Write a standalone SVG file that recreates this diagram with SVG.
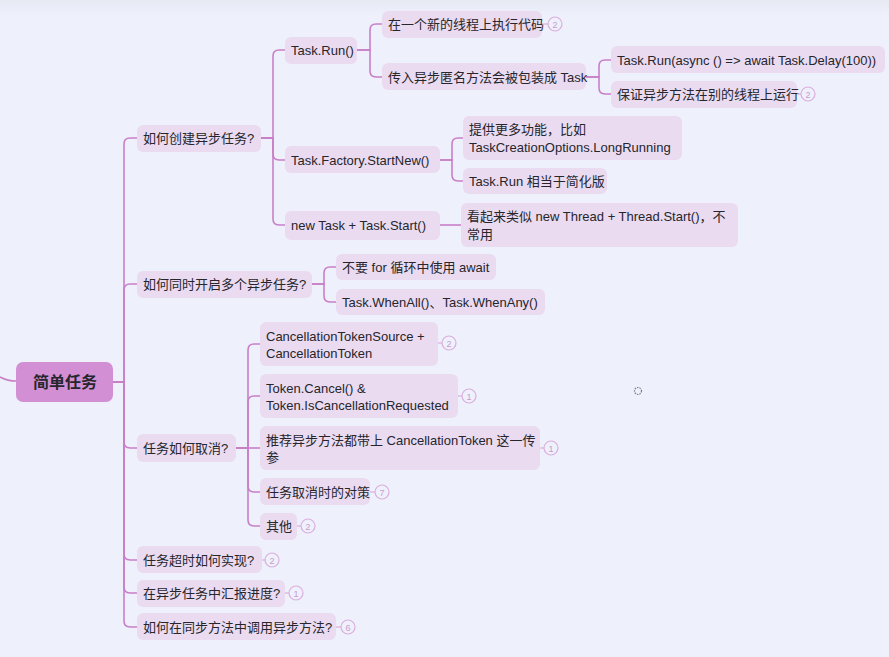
<svg xmlns="http://www.w3.org/2000/svg" width="889" height="657" viewBox="0 0 889 657">
<defs>
<linearGradient id="topband" x1="0" y1="0" x2="0" y2="1">
<stop offset="0" stop-color="#e6e8f2"/>
<stop offset="1" stop-color="#eef1fc"/>
</linearGradient>
<style>
.n rect{fill:#eadbf1;}
.n text,.root text{font-family:"Liberation Sans","Noto Sans CJK SC",sans-serif;font-size:13px;fill:#26262c;}
.root rect{fill:#d38fd3;}
.root text{font-size:16px;font-weight:600;}
.c path{fill:none;stroke:#c97fc8;stroke-width:1.6;}
.b circle{fill:#eef1fc;stroke:#dcaedd;stroke-width:1.2;}
.b line{stroke:#dcaedd;stroke-width:1.2;}
.b text{font-family:"Liberation Sans",sans-serif;font-size:9px;fill:#c99ccb;text-anchor:middle;}
</style>
</defs>
<rect width="889" height="657" fill="#eef1fc"/>
<rect width="889" height="16" fill="url(#topband)"/>

<g id="connectors" class="c">
<path d="M0,377 Q8,381 16,381"/>
<path d="M113,382 H124 V144 Q124,138 130,138 H137"/>
<path d="M113,382 H124 V290 Q124,284 130,284 H137"/>
<path d="M113,382 H124 V442 Q124,448 130,448 H137"/>
<path d="M113,382 H124 V554 Q124,560 130,560 H137"/>
<path d="M113,382 H124 V587 Q124,593 130,593 H137"/>
<path d="M113,382 H124 V621 Q124,627 130,627 H137"/>
<path d="M261,138 H273 V56 Q273,50 279,50 H285"/>
<path d="M261,138 H273 V154 Q273,160 279,160 H285"/>
<path d="M261,138 H273 V219 Q273,225 279,225 H285"/>
<path d="M357,50 H370 V30 Q370,24 376,24 H382"/>
<path d="M357,50 H370 V71 Q370,77 376,77 H382"/>
<path d="M586,77 H599 V66 Q599,60 605,60 H611"/>
<path d="M586,77 H599 V88 Q599,94 605,94 H611"/>
<path d="M440,160 H452 V144 Q452,138 458,138 H463"/>
<path d="M440,160 H452 V175 Q452,181 458,181 H463"/>
<path d="M440,225 H461"/>
<path d="M312,284 H324 V273 Q324,267 330,267 H336"/>
<path d="M312,284 H324 V296 Q324,302 330,302 H336"/>
<path d="M236,448 H248 V350 Q248,344 254,344 H260"/>
<path d="M236,448 H248 V402 Q248,396 254,396 H260"/>
<path d="M236,448 H260"/>
<path d="M236,448 H248 V486 Q248,492 254,492 H260"/>
<path d="M236,448 H248 V520 Q248,526 254,526 H260"/>
</g>

<g id="root" class="root"><rect x="16" y="362" width="97" height="40" rx="7"/><text x="33" y="388">简单任务</text></g>

<g id="n-create" class="n"><rect x="137" y="125" width="124" height="27" rx="6"/><text x="143" y="143">如何创建异步任务?</text></g>
<g id="n-multi" class="n"><rect x="137" y="271" width="175" height="27" rx="6"/><text x="143" y="289">如何同时开启多个异步任务?</text></g>
<g id="n-cancel" class="n"><rect x="137" y="434" width="99" height="28" rx="6"/><text x="143" y="453">任务如何取消?</text></g>
<g id="n-timeout" class="n"><rect x="137" y="546" width="125" height="27" rx="6"/><text x="143" y="565">任务超时如何实现?</text></g>
<g id="n-progress" class="n"><rect x="137" y="580" width="148" height="27" rx="6"/><text x="143" y="598">在异步任务中汇报进度?</text></g>
<g id="n-sync" class="n"><rect x="137" y="613" width="199" height="27" rx="6"/><text x="143" y="632">如何在同步方法中调用异步方法?</text></g>

<g id="n-taskrun" class="n"><rect x="285" y="37" width="72" height="27" rx="6"/><text x="291" y="55">Task.Run()</text></g>
<g id="n-factory" class="n"><rect x="285" y="146" width="155" height="27" rx="6"/><text x="291" y="165">Task.Factory.StartNew()</text></g>
<g id="n-newtask" class="n"><rect x="285" y="211" width="155" height="29" rx="6"/><text x="291" y="230">new Task + Task.Start()</text></g>

<g id="n-newthread" class="n"><rect x="382" y="11" width="160" height="27" rx="6"/><text x="388" y="29">在一个新的线程上执行代码</text></g>
<g id="n-wrap" class="n"><rect x="382" y="63" width="204" height="27" rx="6"/><text x="388" y="82">传入异步匿名方法会被包装成 Task</text></g>
<g id="n-delay" class="n"><rect x="611" y="46" width="274" height="27" rx="6"/><text x="617" y="65">Task.Run(async () =&gt; await Task.Delay(100))</text></g>
<g id="n-otherthread" class="n"><rect x="611" y="81" width="186" height="27" rx="6"/><text x="617" y="99">保证异步方法在别的线程上运行</text></g>

<g id="n-morefeat" class="n"><rect x="463" y="116" width="219" height="44" rx="6"/><text x="469" y="134">提供更多功能，比如</text><text x="469" y="152">TaskCreationOptions.LongRunning</text></g>
<g id="n-simplified" class="n"><rect x="463" y="168" width="144" height="26" rx="6"/><text x="469" y="186">Task.Run 相当于简化版</text></g>
<g id="n-thread" class="n"><rect x="461" y="203" width="277" height="44" rx="6"/><text x="467" y="221">看起来类似 new Thread + Thread.Start()，不</text><text x="467" y="239">常用</text></g>

<g id="n-noawait" class="n"><rect x="336" y="254" width="160" height="26" rx="6"/><text x="342" y="272">不要 for 循环中使用 await</text></g>
<g id="n-whenall" class="n"><rect x="336" y="289" width="209" height="26" rx="6"/><text x="342" y="307">Task.WhenAll()、Task.WhenAny()</text></g>

<g id="n-cts" class="n"><rect x="260" y="322" width="178" height="44" rx="6"/><text x="266" y="341">CancellationTokenSource +</text><text x="266" y="358">CancellationToken</text></g>
<g id="n-tokencancel" class="n"><rect x="260" y="374" width="198" height="44" rx="6"/><text x="266" y="393">Token.Cancel() &amp;</text><text x="266" y="410">Token.IsCancellationRequested</text></g>
<g id="n-recommend" class="n"><rect x="260" y="426" width="280" height="44" rx="6"/><text x="266" y="445">推荐异步方法都带上 CancellationToken 这一传</text><text x="266" y="462">参</text></g>
<g id="n-strategy" class="n"><rect x="260" y="478" width="110" height="27" rx="6"/><text x="266" y="497">任务取消时的对策</text></g>
<g id="n-other" class="n"><rect x="260" y="513" width="37" height="27" rx="6"/><text x="266" y="531">其他</text></g>

<g id="badges" class="b">
<line x1="542" y1="24" x2="548" y2="24"/><circle cx="555" cy="24" r="7"/><text x="555" y="27.5">2</text>
<line x1="797" y1="94" x2="801" y2="94"/><circle cx="808" cy="94" r="7"/><text x="808" y="97.5">2</text>
<line x1="438" y1="343" x2="442" y2="343"/><circle cx="449" cy="343" r="7"/><text x="449" y="346.5">2</text>
<line x1="458" y1="396" x2="462" y2="396"/><circle cx="469" cy="396" r="7"/><text x="469" y="399.5">1</text>
<line x1="540" y1="448" x2="544" y2="448"/><circle cx="551" cy="448" r="7"/><text x="551" y="451.5">1</text>
<line x1="370" y1="492" x2="375" y2="492"/><circle cx="382" cy="492" r="7"/><text x="382" y="495.5">7</text>
<line x1="297" y1="526" x2="301" y2="526"/><circle cx="308" cy="526" r="7"/><text x="308" y="529.5">2</text>
<line x1="262" y1="560" x2="265" y2="560"/><circle cx="272" cy="560" r="7"/><text x="272" y="563.5">2</text>
<line x1="285" y1="593" x2="289" y2="593"/><circle cx="296" cy="593" r="7"/><text x="296" y="596.5">1</text>
<line x1="336" y1="627" x2="341" y2="627"/><circle cx="348" cy="627" r="7"/><text x="348" y="630.5">6</text>
</g>

<circle cx="638" cy="391" r="3.5" fill="none" stroke="#7a7d8a" stroke-width="1.2" stroke-dasharray="1.5 1"/>
</svg>
